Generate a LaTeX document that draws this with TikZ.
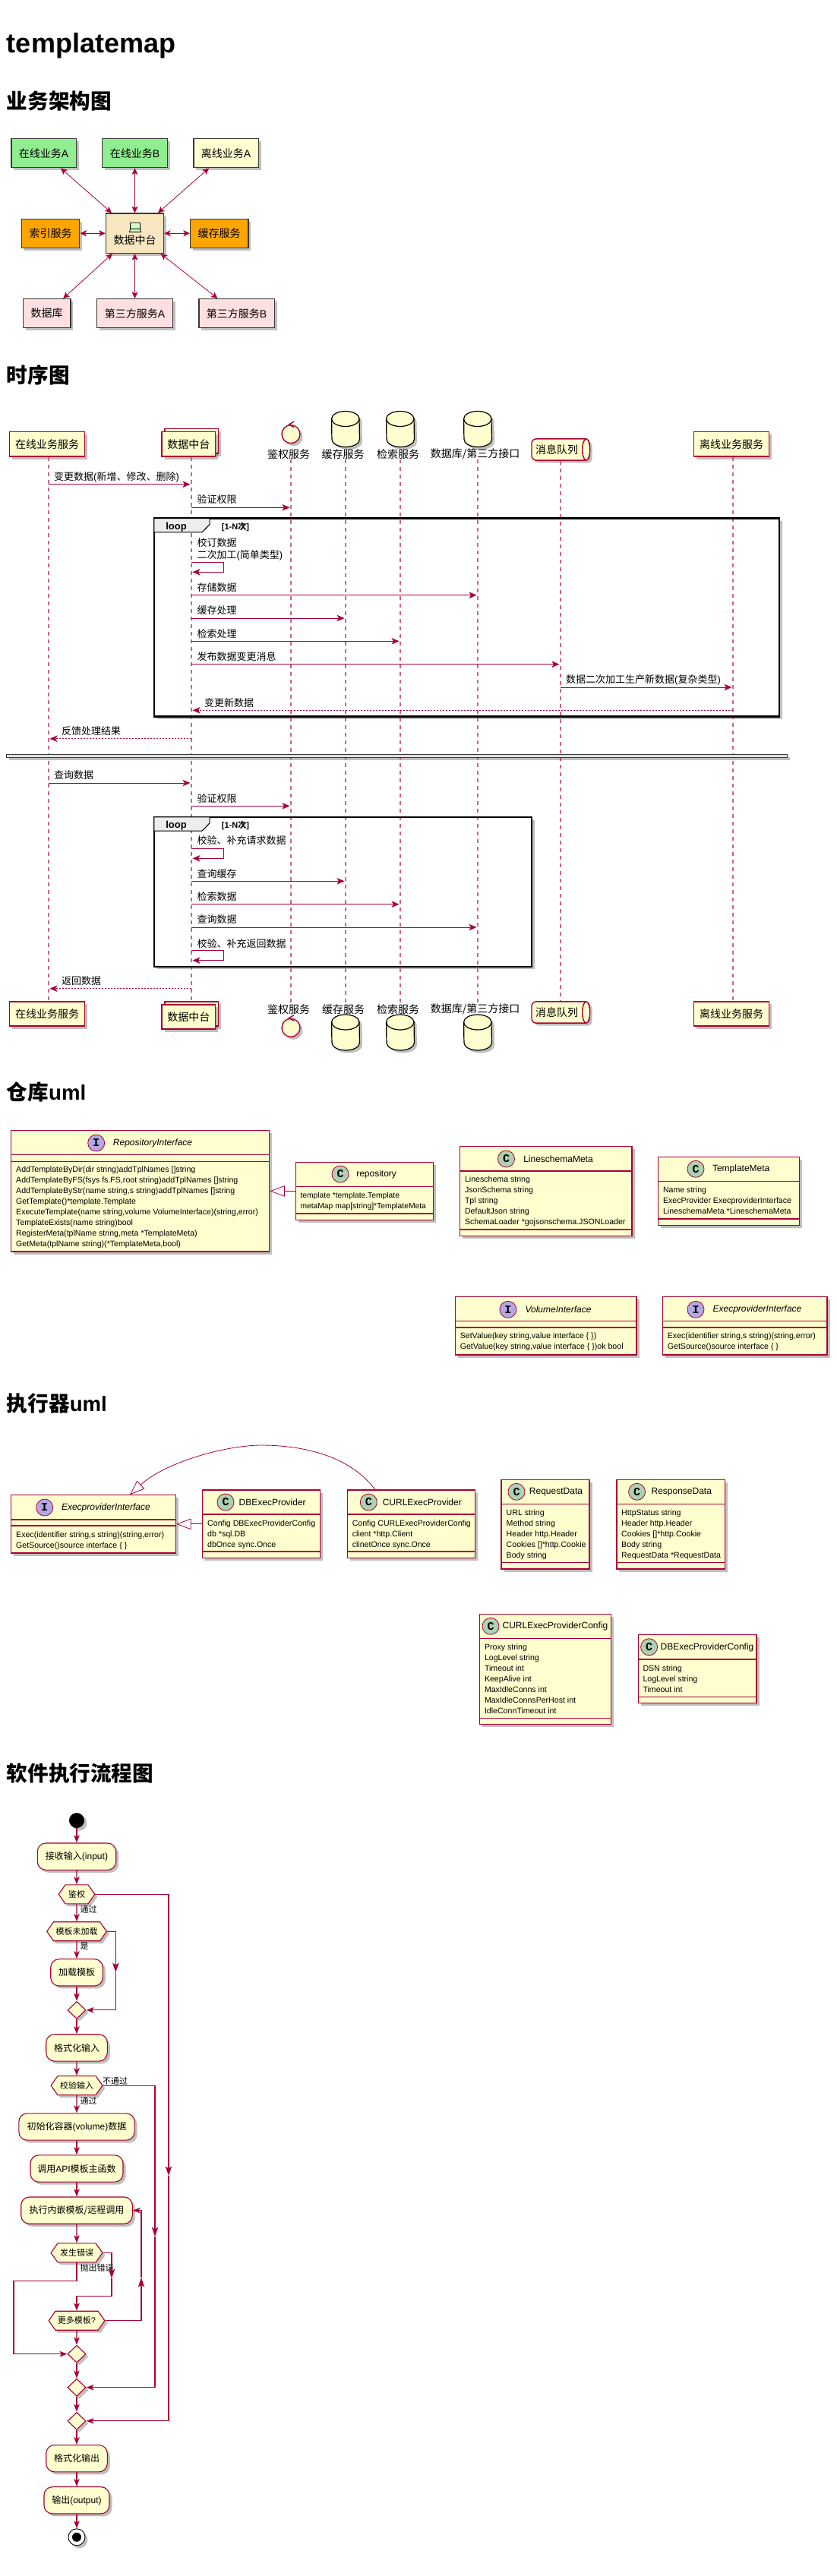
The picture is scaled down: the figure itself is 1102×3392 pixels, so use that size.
\documentclass[tikz,border=0pt]{standalone}
\usepackage{fontspec}
\setmainfont{Liberation Sans}
\setmonofont{Liberation Mono}
\newfontfamily\cjkfont{Noto Sans CJK SC}
\newcommand{\zh}[1]{{\cjkfont #1}}
\usepackage{tikz}
\usetikzlibrary{shapes.geometric, shapes.symbols, arrows.meta, shadows}
\definecolor{umlred}{HTML}{A80036}
\definecolor{umlyellow}{HTML}{FEFECE}
\definecolor{umldark}{HTML}{383838}
\definecolor{archgreen}{HTML}{90EE90}
\definecolor{archorange}{HTML}{FFA500}
\definecolor{archpink}{HTML}{FFDFE0}
\definecolor{archwheat}{HTML}{F7E6C0}
\definecolor{badgegreen}{HTML}{ADD1B2}
\definecolor{badgeviolet}{HTML}{B4A7E5}
% drum of a database participant: name, x, y of its centre
\newcommand{\drum}[3]{%
    \node[drumspot] (#1) at (#2,#3) {};
    \draw[drumline, fill=umlyellow, softshadow] ([yshift=-10pt]#1.north west) arc[start angle=180, end angle=0, x radius=18.25pt, y radius=10pt]
        -- ([yshift=10pt]#1.south east) arc[start angle=360, end angle=180, x radius=18.25pt, y radius=10pt] -- cycle;
    \draw[drumline] ([yshift=-10pt]#1.north west) arc[start angle=180, end angle=360, x radius=18.25pt, y radius=10pt];
}
% queue participant with the end cap on its right
\newcommand{\pipe}[3]{%
    \node[pipebody] (#1) at (#2,#3) {};
    \draw[pipeline, fill=umlyellow] ([xshift=-5pt]#1.east) ellipse[x radius=5pt, y radius=14.1pt];
}

\begin{document}
\begin{tikzpicture}[
        x=1pt, y=-1pt,
        softshadow/.style={drop shadow={shadow xshift=3.5pt, shadow yshift=-3.5pt, opacity=.25, fill=black}},
        doctitle/.style={anchor=base west, inner sep=0pt, font=\fontsize{36}{36}\selectfont\bfseries},
        sectiontitle/.style={anchor=base west, inner sep=0pt, font=\fontsize{27.6}{28}\selectfont\bfseries},
        archbox/.style={rectangle, draw=umldark, line width=1.4pt, minimum height=38pt, inner sep=0pt,
            font=\fontsize{14}{16}\selectfont, softshadow},
        archlink/.style={{Stealth[inset=2pt, length=8.5pt, width=8pt]}-{Stealth[inset=2pt, length=8.5pt, width=8pt]},
            draw=umlred, line width=.8pt},
        actor/.style={rectangle, draw=umlred, fill=umlyellow, line width=1.4pt, minimum height=32.3pt, inner sep=0pt,
            font=\fontsize{14}{16}\selectfont, softshadow},
        drumspot/.style={rectangle, minimum width=36.5pt, minimum height=46.6pt, inner sep=0pt},
        drumline/.style={draw=black, line width=1.2pt},
        pipebody/.style={rectangle, rounded corners=6pt, draw=umlred, fill=umlyellow, line width=1.4pt, minimum width=76pt,
            minimum height=28.3pt, inner sep=0pt, softshadow},
        pipeline/.style={draw=umlred, line width=1.4pt},
        controller/.style={circle, draw=umlred, fill=umlyellow, line width=1.4pt, minimum size=24pt, inner sep=0pt, softshadow},
        lanelabel/.style={inner sep=0pt, font=\fontsize{14}{16}\selectfont},
        lifeline/.style={draw=umlred!60, line width=1.1pt, dash pattern=on 5pt off 5pt},
        msg/.style={-{Stealth[inset=2.5pt, length=10pt, width=8.5pt]}, draw=umlred, line width=.8pt, shorten >=1.5pt},
        reply/.style={msg, dash pattern=on 2pt off 2pt},
        msglabel/.style={anchor=west, inner sep=0pt, font=\fontsize{13}{15}\selectfont},
        loopbox/.style={rectangle, fill=white, inner sep=0pt, softshadow},
        loopline/.style={draw=black, line width=2.2pt},
        looptab/.style={draw=black, fill=black!7, line width=1.1pt},
        looplabel/.style={inner sep=0pt, font=\fontsize{13}{15}\selectfont\bfseries},
        loopguard/.style={anchor=west, inner sep=0pt, font=\fontsize{11}{13}\selectfont\bfseries},
        classbox/.style={rectangle, draw=umlred, fill=umlyellow, line width=1.2pt, inner sep=0pt, softshadow},
        classrule/.style={draw=umlred, line width=1.2pt},
        classbadge/.style={circle, draw=umlred, line width=.8pt, minimum size=22pt, inner sep=0pt,
            font=\fontsize{15}{15}\selectfont\ttfamily\bfseries},
        cbadge/.style={classbadge, fill=badgegreen},
        ibadge/.style={classbadge, fill=badgeviolet},
        classtitle/.style={inner sep=0pt, font=\fontsize{12}{14}\selectfont},
        ifacetitle/.style={classtitle, font=\fontsize{12}{14}\selectfont\itshape},
        members/.style={anchor=north west, inner sep=0pt, align=left, font=\fontsize{10.6}{14}\selectfont},
        inherit/.style={-{Triangle[open, length=19.5pt, width=14.5pt]}, draw=umlred, line width=.8pt},
        actbox/.style={rectangle, rounded corners=11pt, draw=umlred, fill=umlyellow, line width=1.1pt, minimum height=35.3pt,
            inner sep=0pt, font=\fontsize{12}{14}\selectfont, softshadow},
        hexbox/.style={signal, signal to=east and west, signal pointer angle=110,
            draw=umlred, fill=umlyellow, line width=1.1pt, minimum height=25pt, inner sep=0pt,
            font=\fontsize{11}{13}\selectfont, softshadow},
        joinbox/.style={diamond, draw=umlred, fill=umlyellow, line width=1.1pt, minimum width=24pt, minimum height=23pt,
            inner sep=0pt, softshadow},
        flow/.style={-{Stealth[inset=2.5pt, length=10pt, width=7.5pt]}, draw=umlred, line width=1.1pt},
        flowmid/.style={-{Stealth[inset=3pt, length=12.5pt, width=8.5pt]}, draw=umlred, line width=1.1pt},
        flowlabel/.style={anchor=west, inner sep=0pt, font=\fontsize{11}{13}\selectfont}
    ]
        \useasboundingbox (0,0) rectangle (1102,3392);

        % Page headings
        \node[doctitle] (docTitle) at (8.8,69) {templatemap};
        \node[sectiontitle] (archTitle) at (8.8,143.5) {\zh{业务架构图}};
        \node[sectiontitle] (seqTitle) at (8.8,504) {\zh{时序图}};
        \node[sectiontitle] (repoTitle) at (8.8,1448.5) {\zh{仓库}uml};
        \node[sectiontitle] (execTitle) at (8.8,1858.5) {\zh{执行器}uml};
        \node[sectiontitle] (flowTitle) at (8.8,2345) {\zh{软件执行流程图}};

        % Business architecture
        \node[archbox, fill=archgreen, minimum width=85.4pt] (onlineA) at (57.5,201.7) {\zh{在线业务}A};
        \node[archbox, fill=archgreen, minimum width=85.8pt] (onlineB) at (177.5,201.7) {\zh{在线业务}B};
        \node[archbox, fill=umlyellow, minimum width=85.4pt] (offlineA) at (297.5,201.7) {\zh{离线业务}A};
        \node[archbox, fill=archorange, minimum width=76.2pt] (indexSrv) at (66.6,307.2) {\zh{索引服务}};
        \node[archbox, fill=archwheat, minimum width=76pt, minimum height=52.3pt] (hub) at (177.5,307.2) {};
        \node[archbox, fill=archorange, minimum width=76.3pt] (cacheSrv) at (288.7,307.2) {\zh{缓存服务}};
        \node[archbox, fill=archpink, minimum width=62.6pt] (dbSrv) at (61.5,412.7) {\zh{数据库}};
        \node[archbox, fill=archpink, minimum width=99.8pt] (thirdA) at (177.5,412.7) {\zh{第三方服务}A};
        \node[archbox, fill=archpink, minimum width=99.4pt] (thirdB) at (311.6,412.7) {\zh{第三方服务}B};
        \node[lanelabel] (hubText) at (177.5,316) {\zh{数据中台}};
        \draw[fill=green!20!white, draw=black, line width=.8pt, rounded corners=1pt] (171.5,293.3) rectangle (184.5,301.5);
        \draw[fill=green!20!white, draw=black, line width=.8pt] (171.5,301.5) -- (184.5,301.5) -- (185.5,305.5) -- (170.5,305.5) -- cycle;
        \draw[archlink] (hub) -- (onlineA);
        \draw[archlink] (hub) -- (onlineB);
        \draw[archlink] (hub) -- (offlineA);
        \draw[archlink] (hub) -- (indexSrv);
        \draw[archlink] (hub) -- (cacheSrv);
        \draw[archlink] (hub) -- (dbSrv);
        \draw[archlink] (hub) -- (thirdA);
        \draw[archlink] (hub) -- (thirdB);

        % Sequence lanes
        \coordinate (laneOnline) at (64,600);
        \coordinate (laneHub) at (252,600);
        \coordinate (laneAuth) at (383,600);
        \coordinate (laneCache) at (455,600);
        \coordinate (laneSearch) at (527,600);
        \coordinate (laneStore) at (629,600);
        \coordinate (laneQueue) at (738,600);
        \coordinate (laneOffline) at (965,600);

        % Sequence heads
        \node[actor, minimum width=99.1pt] (headOnline) at (62.2,584.9) {\zh{在线业务服务}};
        \node[actor, minimum width=70.7pt] (headHubBack) at (252.4,580.9) {};
        \node[actor, minimum width=70.7pt] (headHub) at (248.4,584.9) {\zh{数据中台}};
        \node[controller] (headAuth) at (383,571.7) {};
        \drum{headCache}{455}{565}
        \drum{headSearch}{527}{565}
        \drum{headStore}{629}{565}
        \pipe{headQueue}{738}{592}
        \node[actor, minimum width=98.8pt] (headOffline) at (963.1,584.9) {\zh{离线业务服务}};
        \node[lanelabel] (labelAuth) at (380,598) {\zh{鉴权服务}};
        \node[lanelabel] (labelCache) at (451.7,598) {\zh{缓存服务}};
        \node[lanelabel] (labelSearch) at (524,598) {\zh{检索服务}};
        \node[lanelabel] (labelStore) at (625.7,598) {\zh{数据库/第三方接口}};
        \node[lanelabel] (labelQueue) at (733,592) {\zh{消息队列}};

        % Sequence feet
        \node[actor, minimum width=99.1pt] (footOnline) at (62.2,1335) {\zh{在线业务服务}};
        \node[actor, minimum width=70.7pt] (footHubBack) at (252.4,1335) {};
        \node[actor, minimum width=70.7pt] (footHub) at (248.4,1339) {\zh{数据中台}};
        \node[controller] (footAuth) at (383,1353.3) {};
        \drum{footCache}{455}{1359.5}
        \drum{footSearch}{527}{1359.5}
        \drum{footStore}{629}{1359.5}
        \pipe{footQueue}{738}{1333}
        \node[actor, minimum width=98.8pt] (footOffline) at (963.1,1335) {\zh{离线业务服务}};
        \node[lanelabel] (footLabelAuth) at (380,1329.3) {\zh{鉴权服务}};
        \node[lanelabel] (footLabelCache) at (452,1329.3) {\zh{缓存服务}};
        \node[lanelabel] (footLabelSearch) at (524,1329.3) {\zh{检索服务}};
        \node[lanelabel] (footLabelStore) at (625.7,1329.3) {\zh{数据库/第三方接口}};
        \node[lanelabel] (footLabelQueue) at (733,1333) {\zh{消息队列}};

        % Heads of the control circles
        \draw[draw=umlred, line width=1.4pt] ([shift={(4,-4)}]headAuth.north) -- ([shift={(-2.5,0)}]headAuth.north) -- ([shift={(4,3.5)}]headAuth.north);
        \draw[draw=umlred, line width=1.4pt] ([shift={(4,-4)}]footAuth.north) -- ([shift={(-2.5,0)}]footAuth.north) -- ([shift={(4,3.5)}]footAuth.north);

        % Loop backgrounds, then lifelines over them
        \node[loopbox, minimum width=823pt, minimum height=260.6pt] (loopWrite) at (614.5,813) {};
        \node[loopbox, minimum width=497pt, minimum height=196.7pt] (loopRead) at (451.5,1174.35) {};
        \draw[lifeline] (laneOnline |- headOnline.south) -- (laneOnline |- footOnline.north);
        \draw[lifeline] (laneHub |- headHub.south) -- (laneHub |- footHubBack.north);
        \draw[lifeline] (laneAuth |- labelAuth.south) -- (laneAuth |- footLabelAuth.north);
        \draw[lifeline] (laneCache |- labelCache.south) -- (laneCache |- footLabelCache.north);
        \draw[lifeline] (laneSearch |- labelSearch.south) -- (laneSearch |- footLabelSearch.north);
        \draw[lifeline] (laneStore |- labelStore.south) -- (laneStore |- footLabelStore.north);
        \draw[lifeline] (laneQueue |- headQueue.south) -- (laneQueue |- footQueue.north);
        \draw[lifeline] (laneOffline |- headOffline.south) -- (laneOffline |- footOffline.north);
        \node[rectangle, draw=umldark, fill=black!12, line width=.8pt, minimum width=1028pt, minimum height=4pt, inner sep=0pt, softshadow] (divider) at (522,995) {};

        % Loop frames
        \draw[loopline] (loopWrite.north west) rectangle (loopWrite.south east);
        \draw[looptab] (loopWrite.north west) -- ++(73.3,0) -- ++(0,8) -- ++(-10,10.3) -- ++(-63.3,0) -- cycle;
        \node[looplabel] (loopWriteName) at (232,693.7) {loop};
        \node[loopguard] (loopWriteGuard) at (291.7,693.7) {[1-N\zh{次}]};
        \draw[loopline] (loopRead.north west) rectangle (loopRead.south east);
        \draw[looptab] (loopRead.north west) -- ++(73.3,0) -- ++(0,8) -- ++(-10,10.3) -- ++(-63.3,0) -- cycle;
        \node[looplabel] (loopReadName) at (232,1086.7) {loop};
        \node[loopguard] (loopReadGuard) at (291.7,1086.7) {[1-N\zh{次}]};

        % Write path
        \draw[msg] (laneOnline |- 0,637.7) -- (laneHub |- 0,637.7);
        \node[msglabel] (msgChange) at (71,628) {\zh{变更数据}(\zh{新增、修改、删除})};
        \draw[msg] (laneHub |- 0,668.3) -- (laneAuth |- 0,668.3);
        \node[msglabel] (msgVerify) at (259.4,658) {\zh{验证权限}};
        \node[msglabel] (msgRevise) at (259.4,714.3) {\zh{校订数据}};
        \node[msglabel] (msgRefine) at (259.4,731.7) {\zh{二次加工}(\zh{简单类型})};
        \draw[msg] (laneHub |- 0,740.3) -- ++(42,0) -- ++(0,13) -- (laneHub |- 0,753.3);
        \draw[msg] (laneHub |- 0,783.7) -- (laneStore |- 0,783.7);
        \node[msglabel] (msgStore) at (259.4,774) {\zh{存储数据}};
        \draw[msg] (laneHub |- 0,814) -- (laneCache |- 0,814);
        \node[msglabel] (msgCache) at (259.4,804) {\zh{缓存处理}};
        \draw[msg] (laneHub |- 0,844.3) -- (laneSearch |- 0,844.3);
        \node[msglabel] (msgIndex) at (259.4,835) {\zh{检索处理}};
        \draw[msg] (laneHub |- 0,874.7) -- (laneQueue |- 0,874.7);
        \node[msglabel] (msgPublish) at (259.4,865) {\zh{发布数据变更消息}};
        \draw[msg] (laneQueue |- 0,905) -- (laneOffline |- 0,905);
        \node[msglabel] (msgOffline) at (745,895) {\zh{数据二次加工生产新数据}(\zh{复杂类型})};
        \draw[reply] (laneOffline |- 0,935.3) -- (laneHub |- 0,935.3);
        \node[msglabel] (msgFresh) at (269,926) {\zh{变更新数据}};
        \draw[reply] (laneHub |- 0,972.7) -- (laneOnline |- 0,972.7);
        \node[msglabel] (msgFeedback) at (81,963) {\zh{反馈处理结果}};

        % Read path
        \draw[msg] (laneOnline |- 0,1031) -- (laneHub |- 0,1031);
        \node[msglabel] (msgQuery) at (71,1020.7) {\zh{查询数据}};
        \draw[msg] (laneHub |- 0,1061.3) -- (laneAuth |- 0,1061.3);
        \node[msglabel] (msgVerifyRead) at (259.4,1051.7) {\zh{验证权限}};
        \node[msglabel] (msgFillReq) at (259.4,1107) {\zh{校验、补充请求数据}};
        \draw[msg] (laneHub |- 0,1117) -- ++(42,0) -- ++(0,13.3) -- (laneHub |- 0,1130.3);
        \draw[msg] (laneHub |- 0,1160.3) -- (laneCache |- 0,1160.3);
        \node[msglabel] (msgReadCache) at (259.4,1151) {\zh{查询缓存}};
        \draw[msg] (laneHub |- 0,1190.7) -- (laneSearch |- 0,1190.7);
        \node[msglabel] (msgReadIndex) at (259.4,1181) {\zh{检索数据}};
        \draw[msg] (laneHub |- 0,1221) -- (laneStore |- 0,1221);
        \node[msglabel] (msgReadStore) at (259.4,1211) {\zh{查询数据}};
        \node[msglabel] (msgFillResp) at (259.4,1242.3) {\zh{校验、补充返回数据}};
        \draw[msg] (laneHub |- 0,1251.3) -- ++(42,0) -- ++(0,13.4) -- (laneHub |- 0,1264.7);
        \draw[reply] (laneHub |- 0,1301.7) -- (laneOnline |- 0,1301.7);
        \node[msglabel] (msgReturn) at (80.8,1292) {\zh{返回数据}};

        % Repository uml
        \node[classbox, minimum width=340.3pt, minimum height=159.3pt] (repoIface) at (184.65,1568.35) {};
        \draw[classrule] (repoIface.west |- 0,1520.7) -- (repoIface.east |- 0,1520.7);
        \draw[classrule] (repoIface.west |- 0,1529.3) -- (repoIface.east |- 0,1529.3);
        \node[ibadge] (repoIfaceBadge) at (126.7,1505) {I};
        \node[ifacetitle] (repoIfaceName) at (201,1505.5) {RepositoryInterface};
        \node[members] (repoIfaceBody) at (21,1536) {AddTemplateByDir(dir string)addTplNames []string\\
            AddTemplateByFS(fsys fs.FS,root string)addTplNames []string\\
            AddTemplateByStr(name string,s string)addTplNames []string\\
            GetTemplate()*template.Template\\
            ExecuteTemplate(name string,volume VolumeInterface)(string,error)\\
            TemplateExists(name string)bool\\
            RegisterMeta(tplName string,meta *TemplateMeta)\\
            GetMeta(tplName string)(*TemplateMeta,bool)};

        \node[classbox, minimum width=181pt, minimum height=76pt] (repo) at (479.7,1568.35) {};
        \draw[classrule] (repo.west |- 0,1562.7) -- (repo.east |- 0,1562.7);
        \draw[classrule] (repo.west |- 0,1598) -- (repo.east |- 0,1598);
        \node[cbadge] (repoBadge) at (448,1546) {C};
        \node[classtitle] (repoName) at (495.6,1546) {repository};
        \node[members, font=\fontsize{10.3}{14}\selectfont] (repoBody) at (395.3,1570) {template *template.Template\\metaMap map[string]*TemplateMeta};
        \draw[inherit] (repo) -- (repoIface);

        \node[classbox, minimum width=226.7pt, minimum height=118pt] (lineMeta) at (718.65,1568.7) {};
        \draw[classrule] (lineMeta.west |- 0,1542) -- (lineMeta.east |- 0,1542);
        \draw[classrule] (lineMeta.west |- 0,1619) -- (lineMeta.east |- 0,1619);
        \node[cbadge] (lineMetaBadge) at (666.5,1526) {C};
        \node[classtitle] (lineMetaName) at (735,1526.5) {LineschemaMeta};
        \node[members] (lineMetaBody) at (611.8,1549) {Lineschema string\\JsonSchema string\\Tpl string\\DefaultJson string\\SchemaLoader *gojsonschema.JSONLoader};

        \node[classbox, minimum width=186.3pt, minimum height=90pt] (tplMeta) at (959.45,1568.3) {};
        \draw[classrule] (tplMeta.west |- 0,1555.3) -- (tplMeta.east |- 0,1555.3);
        \draw[classrule] (tplMeta.west |- 0,1605) -- (tplMeta.east |- 0,1605);
        \node[cbadge] (tplMetaBadge) at (916,1539.3) {C};
        \node[classtitle] (tplMetaName) at (975.7,1539.5) {TemplateMeta};
        \node[members] (tplMetaBody) at (872.8,1563) {Name string\\ExecProvider ExecproviderInterface\\LineschemaMeta *LineschemaMeta};

        \node[classbox, minimum width=238.6pt, minimum height=76.3pt] (volIface) at (718.7,1745.85) {};
        \draw[classrule] (volIface.west |- 0,1739.7) -- (volIface.east |- 0,1739.7);
        \draw[classrule] (volIface.west |- 0,1748) -- (volIface.east |- 0,1748);
        \node[ibadge] (volIfaceBadge) at (668.9,1724.3) {I};
        \node[ifacetitle] (volIfaceName) at (735,1724.5) {VolumeInterface};
        \node[members] (volIfaceBody) at (605.6,1755) {SetValue(key string,value interface \{ \})\\GetValue(key string,value interface \{ \})ok bool};

        \node[classbox, minimum width=216.5pt, minimum height=76.3pt] (provIface) at (980.75,1745.85) {};
        \draw[classrule] (provIface.west |- 0,1739.7) -- (provIface.east |- 0,1739.7);
        \draw[classrule] (provIface.west |- 0,1748) -- (provIface.east |- 0,1748);
        \node[ibadge] (provIfaceBadge) at (916,1724.3) {I};
        \node[ifacetitle] (provIfaceName) at (997,1724.5) {ExecproviderInterface};
        \node[members] (provIfaceBody) at (878.7,1755) {Exec(identifier string,s string)(string,error)\\GetSource()source interface \{ \}};

        % Executor uml
        \node[classbox, minimum width=216.8pt, minimum height=76.3pt] (execIface) at (123.1,2006.85) {};
        \draw[classrule] (execIface.west |- 0,2001) -- (execIface.east |- 0,2001);
        \draw[classrule] (execIface.west |- 0,2009) -- (execIface.east |- 0,2009);
        \node[ibadge] (execIfaceBadge) at (58.7,1985) {I};
        \node[ifacetitle] (execIfaceName) at (139.4,1985.5) {ExecproviderInterface};
        \node[members] (execIfaceBody) at (21,2016.5) {Exec(identifier string,s string)(string,error)\\GetSource()source interface \{ \}};

        \node[classbox, minimum width=155pt, minimum height=89.7pt] (dbExec) at (344.1,2006.85) {};
        \draw[classrule] (dbExec.west |- 0,1994) -- (dbExec.east |- 0,1994);
        \draw[classrule] (dbExec.west |- 0,2043) -- (dbExec.east |- 0,2043);
        \node[cbadge] (dbExecBadge) at (297,1978) {C};
        \node[classtitle] (dbExecName) at (358.7,1978.5) {DBExecProvider};
        \node[members] (dbExecBody) at (273,2002) {Config DBExecProviderConfig\\db *sql.DB\\dbOnce sync.Once};

        \node[classbox, minimum width=168.3pt, minimum height=89.7pt] (curlExec) at (541.45,2006.85) {};
        \draw[classrule] (curlExec.west |- 0,1994) -- (curlExec.east |- 0,1994);
        \draw[classrule] (curlExec.west |- 0,2043) -- (curlExec.east |- 0,2043);
        \node[cbadge] (curlExecBadge) at (485.3,1978) {C};
        \node[classtitle] (curlExecName) at (555.8,1978.5) {CURLExecProvider};
        \node[members] (curlExecBody) at (463.6,2002) {Config CURLExecProviderConfig\\client *http.Client\\clinetOnce sync.Once};

        \coordinate (curlOut) at (494,1961.7);
        \coordinate (curlPeak) at (344,1903);
        \coordinate (ifaceIn) at (171,1968.2);
        \draw[inherit] (dbExec) -- (execIface);
        \draw[inherit] (curlOut) .. controls (458,1913) and (390,1903) .. (curlPeak) .. controls (298,1903) and (218,1925) .. (ifaceIn);

        \node[classbox, minimum width=116pt, minimum height=117.7pt] (reqData) at (718,2007.15) {};
        \draw[classrule] (reqData.west |- 0,1980.3) -- (reqData.east |- 0,1980.3);
        \draw[classrule] (reqData.west |- 0,2057.3) -- (reqData.east |- 0,2057.3);
        \node[cbadge] (reqDataBadge) at (680,1964.3) {C};
        \node[classtitle] (reqDataName) at (732,1964.5) {RequestData};
        \node[members] (reqDataBody) at (666.5,1988) {URL string\\Method string\\Header http.Header\\Cookies []*http.Cookie\\Body string};

        \node[classbox, minimum width=142.8pt, minimum height=117.7pt] (respData) at (883.3,2007.15) {};
        \draw[classrule] (respData.west |- 0,1980.3) -- (respData.east |- 0,1980.3);
        \draw[classrule] (respData.west |- 0,2057.3) -- (respData.east |- 0,2057.3);
        \node[cbadge] (respDataBadge) at (838.6,1964.3) {C};
        \node[classtitle] (respDataName) at (897.3,1964.5) {ResponseData};
        \node[members] (respDataBody) at (818,1988) {HttpStatus string\\Header http.Header\\Cookies []*http.Cookie\\Body string\\RequestData *RequestData};

        \node[classbox, minimum width=173.4pt, minimum height=145.4pt] (curlCfg) at (718.1,2198) {};
        \draw[classrule] (curlCfg.west |- 0,2157.7) -- (curlCfg.east |- 0,2157.7);
        \draw[classrule] (curlCfg.west |- 0,2262.7) -- (curlCfg.east |- 0,2262.7);
        \node[cbadge] (curlCfgBadge) at (646,2141.3) {C};
        \node[classtitle] (curlCfgName) at (731,2141.5) {CURLExecProviderConfig};
        \node[members] (curlCfgBody) at (637.8,2165) {Proxy string\\LogLevel string\\Timeout int\\KeepAlive int\\MaxIdleConns int\\MaxIdleConnsPerHost int\\IdleConnTimeout int};

        \node[classbox, minimum width=155.4pt, minimum height=90pt] (dbCfg) at (918.3,2197.7) {};
        \draw[classrule] (dbCfg.west |- 0,2185) -- (dbCfg.east |- 0,2185);
        \draw[classrule] (dbCfg.west |- 0,2234.7) -- (dbCfg.east |- 0,2234.7);
        \node[cbadge] (dbCfgBadge) at (854.6,2168.7) {C};
        \node[classtitle] (dbCfgName) at (931,2168.9) {DBExecProviderConfig};
        \node[members] (dbCfgBody) at (846.3,2193) {DSN string\\LogLevel string\\Timeout int};

        % Execution flow
        \node[circle, fill=black, minimum size=20pt, inner sep=0pt, softshadow] (start) at (101,2397.1) {};
        \node[actbox, minimum width=103.4pt] (input) at (101,2444.65) {\zh{接收输入}(input)};
        \node[hexbox, minimum width=47.4pt] (auth) at (101,2494.3) {\zh{鉴权}};
        \node[hexbox, minimum width=78.6pt] (tplMissing) at (101,2543.2) {\zh{模板未加载}};
        \node[actbox, minimum width=68.6pt] (loadTpl) at (101,2597.3) {\zh{加载模板}};
        \node[joinbox] (joinLoad) at (101,2646.8) {};
        \node[actbox, minimum width=80.6pt] (fmtIn) at (101,2696.4) {\zh{格式化输入}};
        \node[hexbox, minimum width=67.7pt] (checkIn) at (101,2746.1) {\zh{校验输入}};
        \node[actbox, minimum width=152.3pt] (initVol) at (101,2800.5) {\zh{初始化容器}(volume)\zh{数据}};
        \node[actbox, minimum width=122pt] (callApi) at (101,2855.5) {\zh{调用}API\zh{模板主函数}};
        \node[actbox, minimum width=146.6pt] (runTpl) at (101,2910.6) {\zh{执行内嵌模板/远程调用}};
        \node[hexbox, minimum width=67.7pt] (hasErr) at (101,2966.4) {\zh{发生错误}};
        \node[hexbox, minimum width=73.7pt] (moreTpl) at (101,3055.7) {\zh{更多模板}?};
        \node[joinbox] (joinErr) at (101,3099.6) {};
        \node[joinbox] (joinCheck) at (101,3143.7) {};
        \node[joinbox] (joinAuth) at (101,3187.8) {};
        \node[actbox, minimum width=80.6pt] (fmtOut) at (101,3237.2) {\zh{格式化输出}};
        \node[actbox, minimum width=86pt] (output) at (101,3292.3) {\zh{输出}(output)};
        \node[circle, draw=black, fill=white, line width=.9pt, minimum size=22pt, inner sep=0pt, softshadow] (finish) at (101,3340.8) {};
        \node[circle, fill=black, minimum size=12pt, inner sep=0pt] (finishDot) at (finish) {};

        \node[flowlabel] (passAuth) at (105.3,2514.3) {\zh{通过}};
        \node[flowlabel] (yesLoad) at (105.3,2562.5) {\zh{是}};
        \node[flowlabel] (failCheck) at (135,2740) {\zh{不通过}};
        \node[flowlabel] (passCheck) at (105.3,2766) {\zh{通过}};
        \node[flowlabel] (throwErr) at (105.3,2986.2) {\zh{抛出错误}};

        \draw[flow] (start) -- (input);
        \draw[flow] (input) -- (auth);
        \draw[flow] (auth) -- (tplMissing);
        \draw[flow] (tplMissing) -- (loadTpl);
        \draw[flow] (loadTpl) -- (joinLoad);
        \draw[flow] (joinLoad) -- (fmtIn);
        \draw[flow] (fmtIn) -- (checkIn);
        \draw[flow] (checkIn) -- (initVol);
        \draw[flow] (initVol) -- (callApi);
        \draw[flow] (callApi) -- (runTpl);
        \draw[flow] (runTpl) -- (hasErr);
        \draw[flow] (moreTpl) -- (joinErr);
        \draw[flow] (joinErr) -- (joinCheck);
        \draw[flow] (joinCheck) -- (joinAuth);
        \draw[flow] (joinAuth) -- (fmtOut);
        \draw[flow] (fmtOut) -- (output);
        \draw[flow] (output) -- (finish);

        % Side branches, each with an arrow halfway
        \coordinate (skipMid) at (152.3,2597);
        \draw[flowmid] (tplMissing.east) -| (skipMid);
        \draw[flow] (skipMid) |- (joinLoad.east);

        \coordinate (authMid) at (222,2865);
        \draw[flowmid] (auth.east) -| (authMid);
        \draw[flow] (authMid) |- (joinAuth.east);

        \coordinate (checkMid) at (204,2945);
        \draw[flowmid] (checkIn.east) -| (checkMid);
        \draw[flow] (checkMid) |- (joinCheck.east);

        \coordinate (errMid) at (147,3000);
        \coordinate (errTurn) at (147,3023.6);
        \draw[flowmid] (hasErr.east) -| (errMid);
        \draw[flow] (errMid) -- (errTurn) -| (moreTpl.north);

        \coordinate (moreMid) at (186,2999);
        \draw[flowmid] (moreTpl.east) -| (moreMid);
        \draw[flow] (moreMid) |- (runTpl.east);

        \coordinate (leakLeft) at (18,3003.2);
        \draw[flow] (hasErr.south) |- (leakLeft) |- (joinErr.west);

    \end{tikzpicture}
\end{document}
